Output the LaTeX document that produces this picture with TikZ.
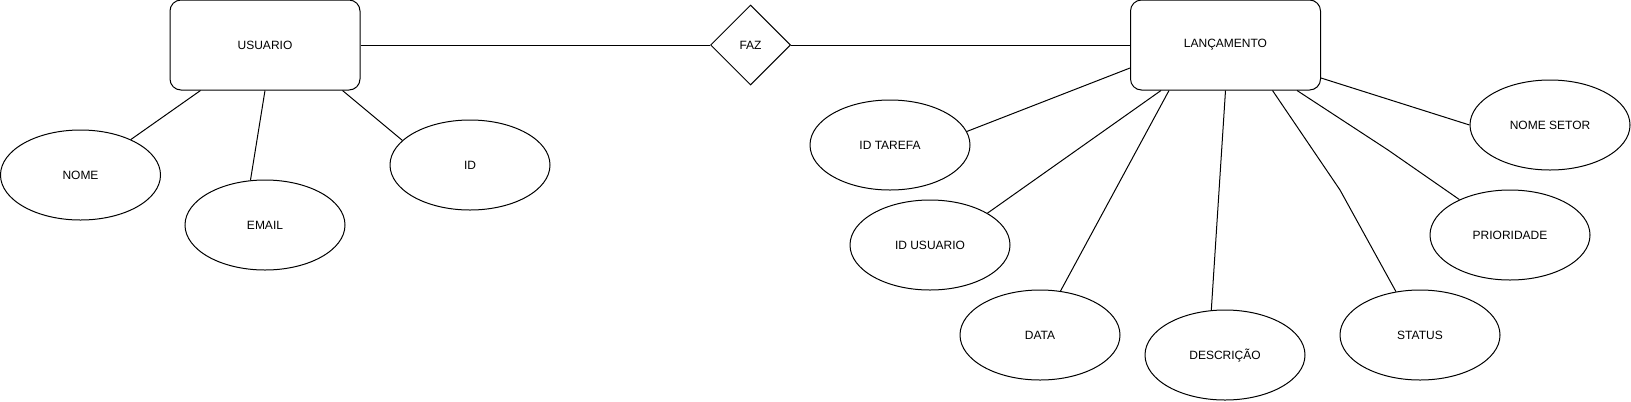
\documentclass[tikz,border=0pt]{standalone}
\usepackage{fontspec}
\setmainfont{Liberation Sans}
\usetikzlibrary{shapes.geometric,calc}
\begin{document}
\begin{tikzpicture}[x=1bp,y=-1bp,
  every node/.style={font=\fontsize{12bp}{14bp}\selectfont, inner sep=0pt},
  entity/.style={draw, rounded corners=11bp, minimum width=190bp, minimum height=90bp, line width=1bp},
  attr/.style={draw, ellipse, minimum width=160bp, minimum height=90bp, line width=1bp},
  rel/.style={draw, diamond, minimum width=80bp, minimum height=80bp, line width=1bp},
  link/.style={line width=1bp, black}]
\useasboundingbox (0,0) rectangle (1631,401);

\node[entity] (usuario) at (265,45) {USUARIO};
\node[rel] (faz) at (750.5,45) {FAZ};
\node[entity] (lanc) at (1225.5,45) {LANÇAMENTO};

\node[attr] (nome) at (80.5,175) {NOME};
\node[attr] (email) at (265,225) {EMAIL};
\node[attr] (id) at (470,165) {ID};

\node[attr] (idtarefa) at (890,145) {ID TAREFA};
\node[attr] (idusuario) at (930,245) {ID USUARIO};
\node[attr] (data) at (1040,335) {DATA};
\node[attr] (descricao) at (1225,355) {DESCRIÇÃO};
\node[attr] (status) at (1420,335) {STATUS};
\node[attr] (prioridade) at (1510,235) {PRIORIDADE};
\node[attr] (nomesetor) at (1550,125) {NOME SETOR};

\coordinate (ws) at (1340,190);
\coordinate (wp) at (1388,150);

\draw[link] (usuario.east) -- (faz.west);
\draw[link] (faz.east) -- (lanc.west);
\draw[link] (usuario) -- (nome);
\draw[link] (usuario.south) -- (email.108);
\draw[link] ($(usuario.south east)+(-18,0)$) -- (id.160);

\draw[link] ($(lanc.west)+(0,23)$) -- (idtarefa.10);
\draw[link] ($(lanc.south west)+(31,0)$) -- (idusuario.29);
\draw[link] ($(lanc.south west)+(39,0)$) -- (data.65);
\draw[link] (lanc.south) -- (descricao.107);
\draw[link] ($(lanc.south)+(47,0)$) -- (ws) -- (status.119);
\draw[link] ($(lanc.south east)+(-24,0)$) -- (wp) -- (prioridade.145);
\draw[link] ($(lanc.east)+(0,33)$) -- (nomesetor.west);
\end{tikzpicture}
\end{document}
